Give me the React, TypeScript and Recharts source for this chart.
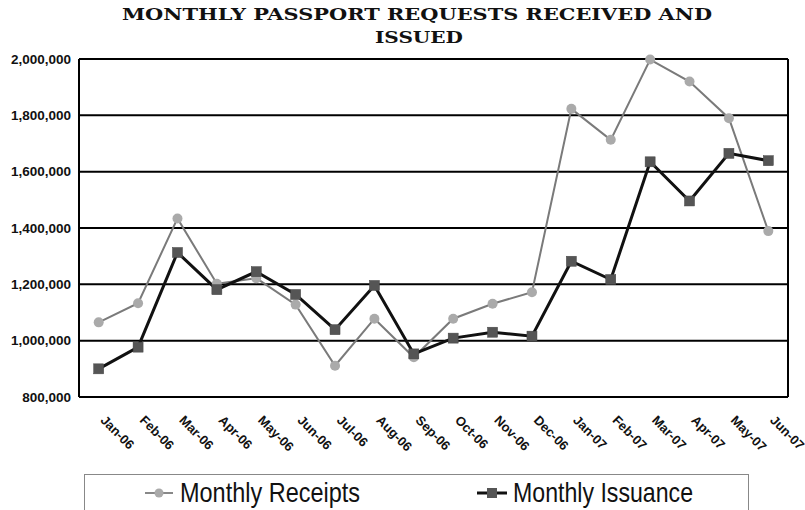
import {
  ComposedChart,
  Line,
  XAxis,
  YAxis,
  CartesianGrid,
  Legend,
} from "recharts";

const months = [
  "Jan-06", "Feb-06", "Mar-06", "Apr-06", "May-06", "Jun-06", "Jul-06", "Aug-06", "Sep-06",
  "Oct-06", "Nov-06", "Dec-06", "Jan-07", "Feb-07", "Mar-07", "Apr-07", "May-07", "Jun-07",
];
const receipts = [
  1065000, 1133000, 1434000, 1202000, 1222000, 1128000, 911000, 1078000, 941000,
  1078000, 1131000, 1172000, 1823000, 1713000, 1998000, 1920000, 1790000, 1389000,
];
const issuance = [
  900000, 977000, 1313000, 1181000, 1245000, 1164000, 1039000, 1196000, 953000,
  1009000, 1030000, 1016000, 1282000, 1217000, 1635000, 1496000, 1665000, 1639000,
];
const yTicks = [800000, 1000000, 1200000, 1400000, 1600000, 1800000, 2000000];
const boundaryTicks = months.map((_, i) => i).concat(months.length);

const data = months.map((m, i) => ({ month: m, receipts: receipts[i], issuance: issuance[i] }));

const sans = "'Liberation Sans', Arial, sans-serif";
const yFmt = (v: number) => v.toLocaleString("en-US");

const MonthTick = ({ x, y, payload }: any) => (
  <g transform={`translate(${x + 1},${y + 24})`}>
    <text transform="rotate(45)" textAnchor="start" fontFamily={sans} fontWeight="bold" fontSize={13} fill="#111">
      {payload.value}
    </text>
  </g>
);

const SquareDot = (props: any) => {
  const { cx, cy, index } = props;
  if (cx == null || cy == null) return null;
  return <rect key={`sq-${index}`} x={cx - 5} y={cy - 5} width={10} height={10} fill="#555" stroke="#444" strokeWidth={0.5} />;
};

const LegendBox = () => (
  <div style={{ width: 665, height: 40, border: "1px solid #888", borderBottom: "none", boxSizing: "border-box", background: "#fff" }}>
    <svg width={665} height={40} style={{ display: "block", marginTop: -1, marginLeft: -1 }}>
      <line x1={61} x2={89} y1={19} y2={19} stroke="#888" strokeWidth={2} />
      <circle cx={75} cy={19} r={4.5} fill="#aaa" />
      <text x={96} y={28} fontFamily={sans} fontSize={28} fill="#111" textLength={180} lengthAdjust="spacingAndGlyphs">
        Monthly Receipts
      </text>
      <line x1={393} x2={423} y1={19} y2={19} stroke="#111" strokeWidth={3} />
      <rect x={403} y={14} width={10} height={10} fill="#555" />
      <text x={429} y={28} fontFamily={sans} fontSize={28} fill="#111" textLength={180} lengthAdjust="spacingAndGlyphs">
        Monthly Issuance
      </text>
    </svg>
  </div>
);

export default function App() {
  return (
    <div style={{ position: "absolute", left: 0, top: 0, width: 805, height: 510, background: "#fff" }}>
      <svg width={805} height={50} style={{ position: "absolute", left: 0, top: 0 }}>
        <text x={122} y={20} fontFamily="'DejaVu Serif', serif" fontWeight="bold" fontSize={16.5} fill="#111"
          textLength={590} lengthAdjust="spacingAndGlyphs">
          MONTHLY PASSPORT REQUESTS RECEIVED AND
        </text>
        <text x={375} y={43} fontFamily="'DejaVu Serif', serif" fontWeight="bold" fontSize={16.5} fill="#111"
          textLength={88} lengthAdjust="spacingAndGlyphs">
          ISSUED
        </text>
      </svg>
      <ComposedChart width={805} height={510} data={data} margin={{ top: 59, right: 0, bottom: 0, left: 0 }}>
        <CartesianGrid horizontal vertical={false} stroke="#000" strokeWidth={2} />
        <XAxis xAxisId="b" type="number" domain={[0, months.length]} ticks={boundaryTicks} height={0}
          tick={false} tickSize={5} tickLine={{ stroke: "#777", strokeWidth: 1 }}
          axisLine={{ stroke: "#000", strokeWidth: 2 }} allowDataOverflow />
        <XAxis dataKey="month" scale="band" interval={0} height={113} tickSize={0} tickMargin={0}
          tickLine={false} axisLine={false} tick={<MonthTick />} />
        <YAxis domain={[800000, 2000000]} ticks={yTicks} width={79} tickFormatter={yFmt}
          tick={{ fontFamily: sans, fontWeight: "bold", fontSize: 13.5, fill: "#111" }}
          tickLine={false} axisLine={{ stroke: "#000", strokeWidth: 2 }} />
        <YAxis yAxisId="r" orientation="right" domain={[800000, 2000000]} width={17}
          tick={false} tickLine={false} axisLine={{ stroke: "#000", strokeWidth: 2 }} />
        <Line dataKey="receipts" name="Monthly Receipts" stroke="#7a7a7a" strokeWidth={2}
          dot={{ r: 5, fill: "#aaa", stroke: "none" }} isAnimationActive={false} />
        <Line dataKey="issuance" name="Monthly Issuance" stroke="#111" strokeWidth={3}
          dot={<SquareDot />} isAnimationActive={false} />
        <Legend verticalAlign="middle" align="center" content={<LegendBox />}
          wrapperStyle={{ position: "absolute", top: 474, left: 84, width: 665, height: 40 }} />
      </ComposedChart>
    </div>
  );
}
